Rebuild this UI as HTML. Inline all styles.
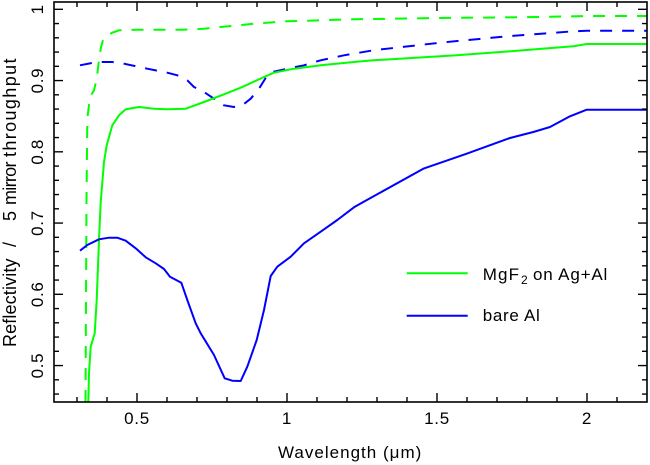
<!DOCTYPE html>
<html>
<head>
<meta charset="utf-8">
<style>
html,body{margin:0;padding:0;background:#fff;}
svg{display:block;}
text{font-family:"Liberation Sans","DejaVu Sans",sans-serif;font-size:17px;fill:#000;letter-spacing:0.7px;}
.yt{font-size:18px;letter-spacing:0.5px;}
</style>
</head>
<body>
<svg width="650" height="465" viewBox="0 0 650 465" xmlns="http://www.w3.org/2000/svg">
<rect x="0" y="0" width="650" height="465" fill="#fff"/>

<!-- curves -->
<g fill="none" stroke-width="2" stroke-linejoin="round">
  <polyline stroke="#00ff00" stroke-dasharray="12 10" points="85.5,402 86,300 86.5,200 87.3,118.7 90,97 94,90.3 96.7,78.7 99,60 100.7,48.7 103.3,38.7 107.3,35.3 112.3,32.7 119,30.3 137,29.7 182,29.7 204,28.7 254,23.7 287,21.3 354,19.3 440,18 540,17 586.7,16 647,16"/>
  <polyline stroke="#0000ff" stroke-dasharray="12 10" points="80,65.3 92,63 102.3,62 112.3,62 124,63.7 147.3,68.7 167.3,72.7 177.3,75.3 187.3,80.3 194,87 204,92 214,98.7 224,105.3 234,107 242.3,105.3 250.7,98.7 259,88.7 267.3,75.3 272.3,72 287.3,68.7 304,65.3 320.7,60.3 344,55.3 373.3,50.3 440,42.7 506.7,36.3 573.3,31.3 586.7,30.7 647,30.7"/>
  <polyline stroke="#00ff00" points="88.3,402 89,373.3 90.7,346.7 94.7,333.3 96.7,300 99,240 100.7,202 104,162 106.7,145.3 112.3,125.3 119,115.3 125.7,109.3 139,107 154,108.7 167.3,109.3 185.7,108.7 204,102 224,94.3 240.7,87.7 264,77 274,72.7 294,68.7 320.7,65.3 354,62 373.3,60.3 456.7,55.3 523.3,50.3 573.3,46.3 586.7,44 647,44"/>
  <polyline stroke="#0000ff" points="80,250.7 87.3,245 99,239.3 109,237.7 117.3,237.7 125.7,240.7 135.7,248.3 145.7,257.3 155.7,263.3 164,269 170,276.7 181.3,282.7 187.3,300 195.7,323.3 200.7,333.3 214,355 224.7,378.3 232.3,380.7 240.7,381 247.3,366.7 256.7,340 264,310 270.7,276 277.3,266.7 290.7,256.7 304,243.3 320.7,231.7 337.3,220 354,207.3 363.3,202 423.3,168.7 466.7,153.7 510,138 533.3,132 550,127 570,116.3 586.7,109.7 647,109.7"/>
</g>

<!-- frame -->
<rect x="54" y="2" width="593" height="400" fill="none" stroke="#000" stroke-width="1.6"/>

<!-- ticks -->
<g stroke="#000" stroke-width="1.4" fill="none">
  <path d="M137,402v-9M287,402v-9M437,402v-9M587,402v-9 M137,2v9M287,2v9M437,2v9M587,2v9"/>
  <path d="M77,402v-5M107,402v-5M167,402v-5M197,402v-5M227,402v-5M257,402v-5M317,402v-5M347,402v-5M377,402v-5M407,402v-5M467,402v-5M497,402v-5M527,402v-5M557,402v-5M617,402v-5
           M77,2v5M107,2v5M167,2v5M197,2v5M227,2v5M257,2v5M317,2v5M347,2v5M377,2v5M407,2v5M467,2v5M497,2v5M527,2v5M557,2v5M617,2v5"/>
  <path d="M54,9.3h9M54,80.55h9M54,151.8h9M54,223.05h9M54,294.3h9M54,365.55h9
           M647,9.3h-9M647,80.55h-9M647,151.8h-9M647,223.05h-9M647,294.3h-9M647,365.55h-9"/>
  <path d="M54,23.55h5M54,37.8h5M54,52.05h5M54,66.3h5M54,94.8h5M54,109.05h5M54,123.3h5M54,137.55h5M54,166.05h5M54,180.3h5M54,194.55h5M54,208.8h5M54,237.3h5M54,251.55h5M54,265.8h5M54,280.05h5M54,308.55h5M54,322.8h5M54,337.05h5M54,351.3h5M54,379.8h5M54,394.05h5
           M647,23.55h-5M647,37.8h-5M647,52.05h-5M647,66.3h-5M647,94.8h-5M647,109.05h-5M647,123.3h-5M647,137.55h-5M647,166.05h-5M647,180.3h-5M647,194.55h-5M647,208.8h-5M647,237.3h-5M647,251.55h-5M647,265.8h-5M647,280.05h-5M647,308.55h-5M647,322.8h-5M647,337.05h-5M647,351.3h-5M647,379.8h-5M647,394.05h-5"/>
</g>

<!-- x tick labels -->
<g text-anchor="middle">
  <text x="137" y="424">0.5</text>
  <text x="287" y="424">1</text>
  <text x="437" y="424">1.5</text>
  <text x="587" y="424">2</text>
</g>

<!-- y tick labels (rotated) -->
<g text-anchor="middle">
  <text transform="translate(43,9.3) rotate(-90)">1</text>
  <text transform="translate(43,80.55) rotate(-90)">0.9</text>
  <text transform="translate(43,151.8) rotate(-90)">0.8</text>
  <text transform="translate(43,223.05) rotate(-90)">0.7</text>
  <text transform="translate(43,294.3) rotate(-90)">0.6</text>
  <text transform="translate(43,365.55) rotate(-90)">0.5</text>
</g>

<!-- axis titles -->
<text x="278" y="458" textLength="144" lengthAdjust="spacing">Wavelength (μm)</text>
<g class="yt">
  <text class="yt" transform="translate(16,347) rotate(-90)" textLength="89" lengthAdjust="spacing">Reflectivity</text>
  <text class="yt" transform="translate(16,247) rotate(-90)">/</text>
  <text class="yt" transform="translate(16,221) rotate(-90)">5</text>
  <text class="yt" transform="translate(16,205) rotate(-90)" textLength="44" lengthAdjust="spacing">mirror</text>
  <text class="yt" transform="translate(16,157) rotate(-90)" textLength="99" lengthAdjust="spacing">throughput</text>
</g>

<!-- legend -->
<line x1="406.7" y1="273.3" x2="467.7" y2="273.3" stroke="#00ff00" stroke-width="2"/>
<line x1="406.7" y1="315.7" x2="467.7" y2="315.7" stroke="#0000ff" stroke-width="2"/>
<text x="482.7" y="280" textLength="37" lengthAdjust="spacing">MgF</text>
<text x="521" y="284" style="font-size:12px;letter-spacing:0">2</text>
<text x="533" y="280" textLength="75" lengthAdjust="spacing">on Ag+Al</text>
<text x="482.7" y="321">bare Al</text>
</svg>
</body>
</html>
